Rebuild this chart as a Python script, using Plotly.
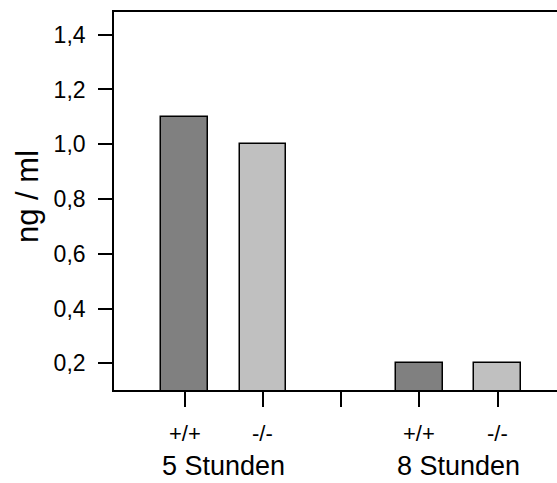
import plotly.graph_objects as go

positions = [1, 2, 4, 5]
values = [1.1, 1.0, 0.2, 0.2]
colors = ["#808080", "#c0c0c0", "#808080", "#c0c0c0"]
genotype_labels = ["+/+", "-/-", "+/+", "-/-"]
group_labels = ["5 Stunden", "8 Stunden"]
group_positions = [1.5, 4.5]
tick_positions = [1, 2, 3, 4, 5]
y_ticks = [0.2, 0.4, 0.6, 0.8, 1.0, 1.2, 1.4]
y_ticktext = ["0,2", "0,4", "0,6", "0,8", "1,0", "1,2", "1,4"]

FONT = "Liberation Sans, Arial, sans-serif"

W, H = 557, 483
L, R_EDGE, TOP, BOT = 114, 557, 12, 390

fig = go.Figure()
fig.add_trace(go.Bar(
    x=positions, y=values, width=0.6,
    marker=dict(color=colors, line=dict(color="black", width=1.5)),
    showlegend=False, hoverinfo="skip",
))

def py(p):
    return (BOT - p) / (BOT - TOP)

def px(p):
    return (p - L) / (R_EDGE - L)

for xp, t in zip(positions, genotype_labels):
    fig.add_annotation(x=xp, y=py(434), xref="x", yref="paper", text=t,
                       showarrow=False, yanchor="middle",
                       font=dict(family=FONT, size=22, color="black"))
for xp, t in zip(group_positions, group_labels):
    fig.add_annotation(x=xp, y=py(466), xref="x", yref="paper", text=t,
                       showarrow=False, yanchor="middle",
                       font=dict(family=FONT, size=27, color="black"))

fig.add_annotation(x=px(27), y=py(197), xref="paper", yref="paper", text="ng / ml",
                   showarrow=False, textangle=-90, xanchor="center", yanchor="middle",
                   font=dict(family=FONT, size=31, color="black"))

fig.update_layout(
    width=W, height=H,
    margin=dict(l=L, r=W - R_EDGE, t=TOP, b=H - BOT),
    plot_bgcolor="white", paper_bgcolor="white",
    font=dict(family=FONT, color="black"),
    bargap=0,
)
fig.update_xaxes(
    range=[0.095, 5.76], tickvals=tick_positions, ticktext=[""] * 5,
    ticks="outside", ticklen=15, tickwidth=1.6, tickcolor="black",
    showline=True, linecolor="black", linewidth=1.6, mirror=True,
    showgrid=False, zeroline=False,
)
fig.update_yaxes(
    range=[0.1024, 1.483], tickvals=y_ticks, ticktext=y_ticktext,
    ticks="outside", ticklen=14, tickwidth=1.6, tickcolor="black",
    tickfont=dict(family=FONT, size=23, color="black"),
    showline=True, linecolor="black", linewidth=1.6,
    showgrid=False, zeroline=False, ticklabelstandoff=8,
)

fig.write_html("out.html", config={"displayModeBar": False},
               post_script="document.body.style.margin='0';document.body.style.overflow='hidden';")
